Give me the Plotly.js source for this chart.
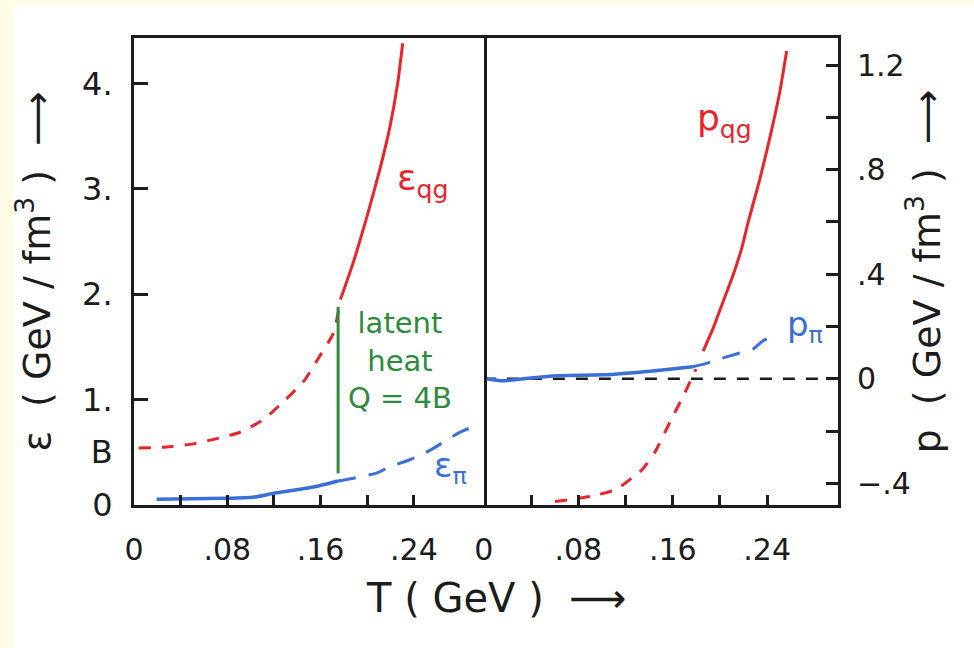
<!DOCTYPE html>
<html>
<head>
<meta charset="utf-8">
<script src="https://cdn.plot.ly/plotly-3.0.1.min.js"></script>
<style>html,body{margin:0;padding:0;background:#fff;}#chart{width:974px;height:648px;}</style>
</head>
<body>
<div id="chart"></div>
<script>
// ---- data ----
// left panel: energy density epsilon (GeV/fm^3) vs T (GeV)
const epsQgDashT = [0.004, 0.028, 0.051, 0.071, 0.091, 0.111, 0.130, 0.146, 0.158, 0.171, 0.176];
const epsQgDash  = [0.54, 0.55, 0.58, 0.63, 0.69, 0.81, 1.00, 1.18, 1.39, 1.63, 1.88];
const epsQgSolidT = [0.177, 0.1877, 0.1996, 0.2107, 0.2193, 0.2261, 0.2304];
const epsQgSolid  = [1.95, 2.29, 2.73, 3.18, 3.58, 4.00, 4.38];
const epsPiSolidT = [0.0194, 0.0794, 0.102, 0.120, 0.142, 0.159, 0.175];
const epsPiSolid  = [0.054, 0.063, 0.073, 0.111, 0.149, 0.183, 0.227];
const epsPiDashT = [0.175, 0.189, 0.208, 0.219, 0.236, 0.254, 0.278, 0.290];
const epsPiDash  = [0.227, 0.256, 0.303, 0.36, 0.427, 0.52, 0.682, 0.74];
const latentT = [0.175, 0.175];
const latentE = [0.30, 1.88];
// right panel: pressure p (GeV/fm^3) vs T (GeV)
const pQgDashT = [0.0602, 0.0912, 0.1124, 0.1266, 0.1336, 0.145, 0.1576, 0.169, 0.1797];
const pQgDash  = [-0.470, -0.449, -0.423, -0.375, -0.35, -0.28, -0.166, -0.065, 0.037];
const pQgSolidT = [0.1858, 0.1943, 0.2028, 0.2113, 0.2184, 0.2240, 0.2339, 0.2424, 0.2508, 0.2565];
const pQgSolid  = [0.106, 0.195, 0.297, 0.399, 0.499, 0.601, 0.766, 0.925, 1.100, 1.254];
const pPiSolidT = [0.0025, 0.016, 0.058, 0.101, 0.143, 0.177];
const pPiSolid  = [0.0, -0.008, 0.011, 0.015, 0.030, 0.046];
const pPiDashT = [0.177, 0.187, 0.200, 0.214, 0.228, 0.236, 0.248];
const pPiDash  = [0.046, 0.057, 0.076, 0.095, 0.114, 0.144, 0.171];
const zeroT = [0, 0.30];
const zeroP = [0, 0];
// ticks
const xTickVals = [0, 0.04, 0.08, 0.12, 0.16, 0.20, 0.24];
const xTickText = ['0', '', '.08', '', '.16', '', '.24'];
const bValue = 0.5;
const epsTickVals = [0, bValue, 1, 2, 3, 4];
const epsTickText = ['0', 'B', '1.', '2.', '3.', '4.'];
const epsMinorVals = [1, 2, 3, 4];
const pTickVals = [1.2, 1.0, 0.8, 0.6, 0.4, 0.2, -0.2, -0.4, 0];
const pTickText = ['1.2', '', '.8', '', '.4', '', '', '−.4', '0'];

const RED = '#e8242c', BLUE = '#3b6fd8', GREEN = '#2e8a3c', INK = '#1c1c1c';
const FONT = 'DejaVu Sans, Liberation Sans, sans-serif';

function line(x, y, color, dash, xa, ya, w) {
  return {x: x, y: y, type: 'scatter', mode: 'lines', xaxis: xa, yaxis: ya,
    line: {color: color, width: w || 3, dash: dash, shape: 'spline', smoothing: 0.5},
    hoverinfo: 'skip', showlegend: false};
}

const traces = [
  line(epsQgDashT, epsQgDash, RED, '12px,11px', 'x', 'y'),
  line(epsQgSolidT, epsQgSolid, RED, 'solid', 'x', 'y'),
  line(epsPiSolidT, epsPiSolid, BLUE, 'solid', 'x', 'y', 3.5),
  line(epsPiDashT, epsPiDash, BLUE, '18px,13px', 'x', 'y'),
  line(latentT, latentE, GREEN, 'solid', 'x', 'y'),
  line(zeroT, zeroP, INK, '12px,11px', 'x2', 'y2', 2.5),
  line(pQgDashT, pQgDash, RED, '12px,11px', 'x2', 'y2'),
  line(pQgSolidT, pQgSolid, RED, 'solid', 'x2', 'y2'),
  line(pPiSolidT, pPiSolid, BLUE, 'solid', 'x2', 'y2', 3.5),
  line(pPiDashT, pPiDash, BLUE, '18px,13px', 'x2', 'y2')
];

const xCommon = {
  range: [0, 0.30], tickvals: xTickVals, ticktext: xTickText,
  ticks: 'inside', ticklen: 10, tickwidth: 3, tickcolor: INK,
  showline: true, mirror: true, linecolor: INK, linewidth: 3,
  showgrid: false, zeroline: false, ticklabelstandoff: 16,
  tickfont: {family: FONT, size: 30, color: INK}, fixedrange: true
};

const layout = {
  width: 974, height: 648,
  margin: {l: 134, r: 136, t: 38, b: 143},
  paper_bgcolor: '#ffffff', plot_bgcolor: '#ffffff',
  showlegend: false,
  xaxis: Object.assign({}, xCommon, {domain: [0, 0.497], anchor: 'y'}),
  xaxis2: Object.assign({}, xCommon, {domain: [0.497, 1], anchor: 'y2'}),
  yaxis: {
    domain: [0, 1], anchor: 'x', side: 'left', range: [0, 4.43],
    tickvals: epsTickVals, ticktext: epsTickText, ticks: '',
    minor: {tickvals: epsMinorVals, ticks: 'inside', ticklen: 14, tickwidth: 3, tickcolor: INK, showgrid: false},
    showline: true, mirror: true, linecolor: INK, linewidth: 3,
    showgrid: false, zeroline: false, ticklabelstandoff: 12,
    tickfont: {family: FONT, size: 32, color: INK},
    title: {text: 'ε  ( GeV / fm<sup>3</sup> )  ⟶', standoff: 20, font: {family: FONT, size: 38, color: INK}},
    fixedrange: true
  },
  yaxis2: {
    domain: [0, 1], anchor: 'x2', side: 'right', range: [-0.483, 1.304],
    tickvals: pTickVals, ticktext: pTickText,
    ticks: 'inside', ticklen: 12, tickwidth: 3, tickcolor: INK,
    showline: true, mirror: false, linecolor: INK, linewidth: 3,
    showgrid: false, zeroline: false, ticklabelstandoff: 10,
    tickfont: {family: FONT, size: 30, color: INK},
    title: {text: 'p  ( GeV / fm<sup>3</sup> )  ⟶', standoff: 4, font: {family: FONT, size: 38, color: INK}},
    fixedrange: true
  },
  shapes: [
    {type: 'rect', xref: 'paper', yref: 'paper', x0: -0.1903, x1: -0.1719, y0: -0.31, y1: 1.0814,
     fillcolor: '#fffbe4', line: {width: 0}, layer: 'below'},
    {type: 'rect', xref: 'paper', yref: 'paper', x0: -0.1903, x1: 1.194, y0: 1.0707, y1: 1.0814,
     fillcolor: '#fffbe4', line: {width: 0}, layer: 'below'}
  ],
  annotations: [
    {xref: 'x', yref: 'y', x: 0.247, y: 3.08, text: 'ε<sub>qg</sub>', showarrow: false,
     font: {family: FONT, size: 36, color: RED}},
    {xref: 'x', yref: 'y', x: 0.228, y: 1.37, text: 'latent<br>heat<br>Q = 4B', showarrow: false,
     align: 'center', font: {family: FONT, size: 29, color: GREEN}},
    {xref: 'x', yref: 'y', x: 0.271, y: 0.36, text: 'ε<sub>π</sub>', showarrow: false,
     font: {family: FONT, size: 34, color: BLUE}},
    {xref: 'x2', yref: 'y2', x: 0.204, y: 0.99, text: 'p<sub>qg</sub>', showarrow: false,
     font: {family: FONT, size: 36, color: RED}},
    {xref: 'x2', yref: 'y2', x: 0.272, y: 0.20, text: 'p<sub>π</sub>', showarrow: false,
     font: {family: FONT, size: 34, color: BLUE}},
    {xref: 'paper', yref: 'paper', x: 0.5156, y: -0.199, xanchor: 'center', yanchor: 'middle',
     text: 'T ( GeV )  ⟶', showarrow: false,
     font: {family: FONT, size: 40, color: INK}}
  ]
};

Plotly.newPlot('chart', traces, layout, {displayModeBar: false, staticPlot: true});
</script>
</body>
</html>
